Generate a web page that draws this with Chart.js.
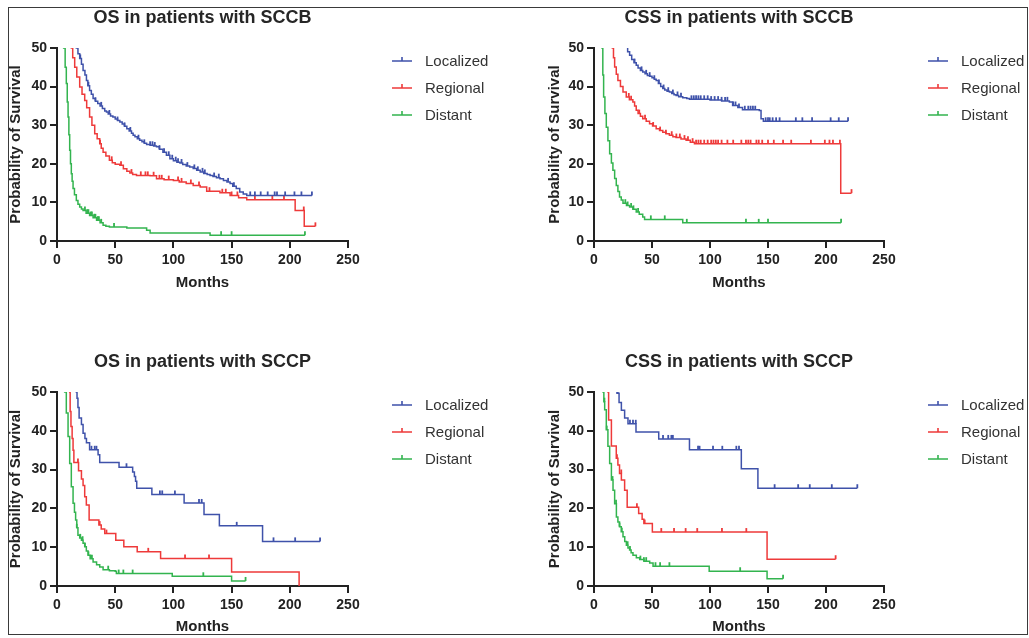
<!DOCTYPE html>
<html>
<head>
<meta charset="utf-8">
<script src="https://cdn.jsdelivr.net/npm/chart.js@4.4.1/dist/chart.umd.min.js"></script>
<style>
  html, body { margin: 0; padding: 0; background: #fff; }
  body { width: 1029px; height: 638px; position: relative; overflow: hidden; }
  canvas { position: absolute; }
  #frame { position: absolute; left: 8px; top: 7px; width: 1020px; height: 628px; box-sizing: border-box;
           border: 1.5px solid #3a3a3a; pointer-events: none; z-index: 5; }
</style>
</head>
<body>
<div id="frame"></div>
<canvas id="c1"></canvas>
<canvas id="c2"></canvas>
<canvas id="c3"></canvas>
<canvas id="c4"></canvas>
<script>
// ---------------- DATA ----------------
const seriesLabels = ['Localized', 'Regional', 'Distant'];
const xTickValues = [0, 50, 100, 150, 200, 250];
const yTickValues = [0, 10, 20, 30, 40, 50];
const xAxisTitle = 'Months';
const yAxisTitle = 'Probability of Survival';
const panelTitles = ['OS in patients with SCCB', 'CSS in patients with SCCB', 'OS in patients with SCCP', 'CSS in patients with SCCP'];

// Kaplan-Meier steps: [month, survival % after the step]
const osSccbLocalized = [[0,100],[12,60],[15,53],[16.6,50],[18,48.5],[19.5,47.3],[21,45.8],[22.4,44.2],[24,43],[25.3,41.6],[26.5,40.2],[28,39],[29.5,38],[31,36.9],[33,36.2],[35,35.6],[37,35],[39,34.3],[41,33.7],[42.5,33.4],[44,32.9],[46,32.4],[48,32.1],[50,31.6],[52,31.2],[54,30.8],[56,30.3],[58,29.7],[60,29.1],[62,28.5],[64,27.9],[65.4,27.4],[67,27],[69,26.5],[71,26.1],[73,25.7],[75,25.3],[77,25],[80,24.8],[83,24.6],[85.5,24.4],[88,23.8],[91,23],[94,22.2],[97,21.3],[100,20.8],[103,20.4],[105.6,20.2],[108,19.8],[111,19.4],[114,19.2],[117,18.8],[120,18.3],[123,17.9],[126,17.5],[129,17.2],[131.5,17],[134,16.7],[137,16.4],[140,16.1],[143,15.7],[146,15.3],[148.7,14.9],[151,14.2],[154,13.6],[157,12.7],[160,12.2],[163,11.8]];
const osSccbLocalizedCensored = [20,27,33,38,45,52,58,63,70,75,80,82,84,88,92,96,99,102,104,107,112,118,121,125,127,135,139,147,152,166,170,175,181,187,189,196,204,210,219];
const osSccbRegional = [[0,100],[8,60],[11,52],[12.3,50],[13.5,47.5],[15.2,45],[17,42.5],[19.5,39.9],[21.5,38],[23.8,36.4],[25.5,34.5],[28,32.1],[30,30],[32.4,27.8],[34.5,26.5],[36.7,25.2],[38,24],[39.6,23],[42,22],[45,20.9],[47.5,20.3],[50,19.9],[54,19.6],[57,18.7],[60,18.1],[62.6,17.6],[65,17.2],[68.3,17],[80,16.9],[85.5,16.1],[92,15.9],[100,15.7],[105,15.3],[111,14.9],[117,14.4],[123,14],[128.6,12.9],[140,12.5],[148.7,11.8],[156,11.2],[163,10.7],[204.6,7.9],[212.4,3.8]];
const osSccbRegionalCensored = [37,47,55,64,72,76,78,83,88,90,96,104,107,115,122,131,142,145,150,155,170,185,195,212,222];
const osSccbDistant = [[0,100],[3,70],[5,55],[5.7,50],[7,45],[8,40.8],[8.8,36],[9.5,32.1],[10.2,27.5],[10.9,23.5],[11.6,20],[12.3,17.4],[13,15.5],[13.8,13.6],[15,12],[16.6,10.5],[18,9.5],[19.5,8.8],[21,8.3],[22.4,7.9],[25,7.2],[28,6.6],[31,6],[34,5.4],[37,4.7],[39.6,4.1],[42,3.8],[45,3.6],[60,3.4],[77,2.8],[80,2.1],[131.5,1.5]];
const osSccbDistantCensored = [24,26,27,29,30,32,33,35,36,38,49,141,150,213];

const cssSccbLocalized = [[0,100],[20,60],[26,52],[27.8,50.2],[29,49],[30.7,48.1],[32.5,47],[34.5,46.2],[36.4,45.5],[38,44.8],[40,44.2],[42,43.8],[44,43.3],[46,42.9],[47.9,42.7],[50,42.3],[52,41.9],[53.6,41.6],[55.5,40.8],[57.5,40],[59.3,39.5],[61,39.1],[63,38.8],[65,38.6],[67,38.2],[69,37.9],[70.8,37.7],[73,37.4],[76.5,37.1],[80,36.9],[82.3,36.7],[100,36.5],[110,36.3],[116.7,36],[119.5,35.1],[124,34.6],[128,34],[142.5,33.8],[144,31.7],[146,31]];
const cssSccbLocalizedCensored = [35,41,45,48,52,56,60,64,68,72,75,84,86,88,90,92,95,98,101,104,107,110,113,115,120,122,125,130,133,135,137,139,148,150,151.5,154,157,160,174,179.6,188,204,211,219];
const cssSccbRegional = [[0,100],[12,60],[15,52],[15.8,50],[16.8,47.5],[17.8,45.1],[19.2,43.2],[20.6,41.6],[22.8,40],[25,38.6],[27.8,37.3],[30.5,36.6],[33.5,36],[35,35],[36.4,33.9],[38,33],[40,32.3],[42,31.7],[45,31],[47.9,30.4],[50.5,29.8],[53.6,29.1],[56.5,28.6],[59.3,28.2],[62,27.8],[65,27.4],[68,27],[70.8,26.8],[75,26.4],[79.4,26.1],[83,25.6],[86.6,25.2],[212.7,12.4]];
const cssSccbRegionalCensored = [30,32,39,44,51,57,62,67,71,74,78,81,85,88,90,92,95,98,101,103,105,107,110,115,120,127,131,133,135,140,142,145,150,155,163,170,187,199,203,206,212,222];
const cssSccbDistant = [[0,100],[4,65],[6,55],[6.9,50],[7.6,43],[8.3,37.3],[9.4,33],[10.6,29.5],[12,26],[13.5,22.6],[15,20.2],[16.3,18.3],[17.8,16.2],[19.2,14.4],[20.6,12.8],[22,11.4],[23.5,10.6],[25,9.8],[28,9.2],[30.7,8.8],[33.5,8.2],[36.4,7.5],[39,6.9],[42,6.2],[43.6,5.6],[76.5,4.7]];
const cssSccbDistantCensored = [27,29,32,34,38,49,61,80,131,142,150,213];

const osSccpLocalized = [[0,100],[14,60],[16.6,50],[17.2,48.4],[18,46],[19,43.3],[21,41.6],[22.4,39.4],[24,38],[25.3,36.9],[28,35.1],[35.3,33.8],[36.7,31.8],[53.3,30.6],[65,29.4],[66.5,28.2],[67.5,27],[68.5,25.2],[81.5,23.6],[109.2,21.4],[126.3,18.4],[139.5,15.5],[176.6,11.5]];
const osSccpLocalizedCensored = [29.6,32.4,33.9,59.7,88.4,90.4,101.3,122,124.3,154.4,186,204.6,226];
const osSccpRegional = [[0,100],[9,60],[10.9,50],[11.3,45],[12,41.1],[13,38],[13.8,35],[14.5,31.8],[18.5,29.7],[21,27.6],[22.4,25.9],[23.8,23],[25.2,20.9],[27.6,17],[36,15.7],[38,14.7],[41,13.5],[50.5,11.8],[57.4,10.1],[68.9,8.8],[89,7.1],[150,3.6],[208,0]];
const osSccpRegionalCensored = [18,36.7,42.5,78.4,110,130.6];
const osSccpDistant = [[0,100],[5,60],[6.6,50],[8,44.6],[9.5,38.5],[10.9,31.6],[12.3,25.6],[13.8,21.3],[15,19],[16,17],[17,15],[18,13.1],[19.5,12.4],[21,11.8],[22.4,11],[23.8,10.1],[25.2,9],[26.7,7.9],[28.5,7],[31,6.2],[34,5.5],[36.7,4.9],[39.6,4.2],[45,3.9],[50,3.8],[51,3.2],[99,2.5],[150,1.3]];
const osSccpDistantCensored = [17,20,22,24,27,29,30,44,53,57,65,125.7,162];

const cssSccpLocalized = [[0,100],[18,55],[19.8,49.7],[21.6,47.3],[23.6,45.3],[26.4,43.3],[29.3,41.8],[36.2,39.7],[55.8,37.9],[82.3,35.1],[127,30.2],[141.3,25.2]];
const cssSccpLocalizedCensored = [20.5,31,33.6,36,59.5,64,66.7,68,89.7,91,102.6,110.6,122.7,125,155.7,176,186,205,227];
const cssSccpRegional = [[0,100],[10,60],[12,50],[12.6,42.8],[15,36.1],[19.2,32.9],[20.6,31.2],[22,29],[23.6,27.3],[26.4,24.7],[28.6,20.3],[38.5,18.7],[41.5,17.2],[43,16.1],[50.3,13.9],[149.2,6.9]];
const cssSccpRegionalCensored = [19.8,23.5,37,43.7,58,69,79,89,110.3,131.3,208.3];
const cssSccpDistant = [[0,100],[6,60],[7.8,50],[8.5,47.5],[9.2,45.4],[10.6,40.3],[12,36],[13.5,31.6],[15,27.3],[16.4,24.7],[17.8,21.2],[19.3,17.8],[20.6,16.5],[22,15.3],[23.5,14],[25,12.7],[26.5,11.5],[27.9,10.5],[29.3,9.8],[30.7,9.3],[32,8.6],[33.6,7.9],[36.5,7.3],[39.4,6.8],[43,6.4],[48,5.9],[50.9,5.1],[99.3,3.8],[149.2,1.9]];
const cssSccpDistantCensored = [9,11,16,19,22,24,29,31,40,43,45,53,57,65,126,163];

// ---------------- STYLE / LAYOUT ----------------
const COLORS = ['#3F52AA', '#EE3A3A', '#33B44F'];
const FONT = '"Liberation Sans", Arial, Helvetica, sans-serif';
Chart.defaults.font.family = FONT;

// Merge events and censor marks into one point list (censor marks sit on the curve)
function buildCurve(steps, censored) {
  const pts = steps.map(s => ({ x: s[0], y: s[1], c: false }));
  censored.forEach(t => {
    let v = steps[0][1];
    for (const s of steps) { if (s[0] <= t) v = s[1]; }
    pts.push({ x: t, y: v, c: true });
  });
  pts.sort((a, b) => a.x - b.x || (a.c ? 1 : -1));
  return pts;
}

const panels = [
  { id: 'c1', L: 7,   T: 8,   W: 513, H: 284, yW: 50, xH: 51, pad: { top: 40, right: 172 }, title: panelTitles[0],
    series: [[osSccbLocalized, osSccbLocalizedCensored], [osSccbRegional, osSccbRegionalCensored], [osSccbDistant, osSccbDistantCensored]] },
  { id: 'c2', L: 546, T: 8,   W: 483, H: 284, yW: 48, xH: 51, pad: { top: 40, right: 145 }, title: panelTitles[1],
    series: [[cssSccbLocalized, cssSccbLocalizedCensored], [cssSccbRegional, cssSccbRegionalCensored], [cssSccbDistant, cssSccbDistantCensored]] },
  { id: 'c3', L: 7,   T: 352, W: 513, H: 284, yW: 50, xH: 50, pad: { top: 40, right: 172 }, title: panelTitles[2],
    series: [[osSccpLocalized, osSccpLocalizedCensored], [osSccpRegional, osSccpRegionalCensored], [osSccpDistant, osSccpDistantCensored]] },
  { id: 'c4', L: 546, T: 352, W: 483, H: 284, yW: 48, xH: 50, pad: { top: 40, right: 145 }, title: panelTitles[3],
    series: [[cssSccpLocalized, cssSccpLocalizedCensored], [cssSccpRegional, cssSccpRegionalCensored], [cssSccpDistant, cssSccpDistantCensored]] }
];

const decorPlugin = {
  id: 'decor',
  afterDraw(chart, args, opts) {
    const { ctx, chartArea: a } = chart;
    ctx.save();
    // title
    ctx.fillStyle = '#262626';
    ctx.font = 'bold 18px ' + FONT;
    ctx.textAlign = 'center';
    ctx.textBaseline = 'middle';
    ctx.fillText(opts.title, (a.left + a.right) / 2, a.top - 30);
    // legend
    ctx.font = '15px ' + FONT;
    ctx.textAlign = 'left';
    chart.data.datasets.forEach((ds, i) => {
      const y = a.top + 13 + i * 27;
      const x = a.right + 44;
      ctx.strokeStyle = ds.borderColor;
      ctx.lineWidth = 1.6;
      ctx.beginPath();
      ctx.moveTo(x, y); ctx.lineTo(x + 20, y);
      ctx.moveTo(x + 10, y); ctx.lineTo(x + 10, y - 4);
      ctx.stroke();
      ctx.fillStyle = '#333';
      ctx.fillText(ds.label, a.right + 77, y + 1);
    });
    ctx.restore();
  }
};

panels.forEach(p => {
  const cv = document.getElementById(p.id);
  cv.style.left = p.L + 'px';
  cv.style.top = p.T + 'px';
  cv.width = p.W; cv.height = p.H;
  cv.style.width = p.W + 'px'; cv.style.height = p.H + 'px';

  const datasets = p.series.map((s, i) => ({
    label: seriesLabels[i],
    data: buildCurve(s[0], s[1]),
    borderColor: COLORS[i],
    backgroundColor: COLORS[i],
    borderWidth: 1.5,
    stepped: 'before',
    fill: false,
    pointStyle: 'dash',
    rotation: -90,
    pointRadius: ctx => (ctx.raw && ctx.raw.c ? 4 : 0),
    pointHoverRadius: 0,
    pointBorderColor: COLORS[i],
    pointBorderWidth: 1.8
  }));

  const axisFontTicks = { family: FONT, size: 14, weight: 'bold' };
  const axisFontTitle = { family: FONT, size: 15, weight: 'bold' };

  new Chart(cv, {
    type: 'line',
    data: { datasets },
    plugins: [decorPlugin],
    options: {
      responsive: false,
      animation: false,
      devicePixelRatio: 1,
      events: [],
      layout: { padding: { left: 0, top: p.pad.top, right: p.pad.right, bottom: 0 } },
      plugins: {
        legend: { display: false },
        title: { display: false },
        tooltip: { enabled: false },
        decor: { title: p.title }
      },
      scales: {
        x: {
          type: 'linear', min: 0, max: 250,
          afterBuildTicks: s => { s.ticks = xTickValues.map(v => ({ value: v })); },
          afterFit: s => { s.height = p.xH; },
          ticks: { color: '#222', font: axisFontTicks, padding: 4, maxRotation: 0 },
          grid: { drawOnChartArea: false, drawTicks: true, tickLength: 7, color: '#222', lineWidth: 2 },
          border: { display: true, color: '#222', width: 2 },
          title: { display: true, text: xAxisTitle, color: '#222', font: axisFontTitle, padding: 0 }
        },
        y: {
          type: 'linear', min: 0, max: 50,
          afterBuildTicks: s => { s.ticks = yTickValues.map(v => ({ value: v })); },
          afterFit: s => { s.width = p.yW; },
          ticks: { color: '#222', font: axisFontTicks, padding: 3 },
          grid: { drawOnChartArea: false, drawTicks: true, tickLength: 7, color: '#222', lineWidth: 2 },
          border: { display: true, color: '#222', width: 2 },
          title: { display: true, text: yAxisTitle, color: '#222', font: axisFontTitle, padding: 0 }
        }
      }
    }
  });
});
</script>
</body>
</html>
